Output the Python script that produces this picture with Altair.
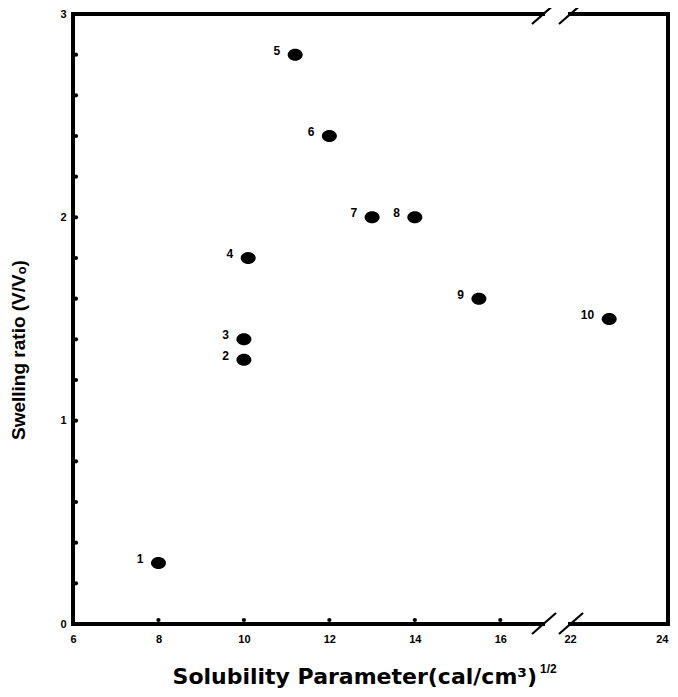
import altair as alt
import pandas as pd

# ---- data ----
solvent_no = ["1", "2", "3", "4", "5", "6", "7", "8", "9", "10"]
solubility = [8.0, 10.0, 10.0, 10.1, 11.2, 12.0, 13.0, 14.0, 15.5, 22.8]
swelling = [0.3, 1.3, 1.4, 1.8, 2.8, 2.4, 2.0, 2.0, 1.6, 1.5]

x_tick_values = [6, 8, 10, 12, 14, 16, 22, 24]
y_tick_values = [0, 1, 2, 3]
x_minor = [8, 10, 12, 14, 16]
y_minor = [0.2, 0.4, 0.6, 0.8, 1.0, 1.2, 1.4, 1.6, 1.8, 2.0, 2.2, 2.4, 2.6, 2.8]
x_min, break_lo, break_hi, x_max = 6, 17, 22, 24
y_min, y_max = 0, 3

x_title = "Solubility Parameter(cal/cm³)"
x_title_sup = "1/2"
y_title = "Swelling ratio (V/Vₒ)"

W, H = 595, 610
FONT = "Liberation Sans"

pts = pd.DataFrame({"x": solubility, "y": swelling, "label": solvent_no})

segments = pd.DataFrame({
    "x": [x_min, x_max, x_min, break_hi, x_min, break_hi],
    "x2": [x_min, x_max, break_lo, x_max, break_lo, x_max],
    "y": [y_min, y_min, y_min, y_min, y_max, y_max],
    "y2": [y_max, y_max, y_min, y_min, y_max, y_max],
})
slashes = pd.DataFrame({
    "x": [break_lo, break_hi, break_lo, break_hi],
    "y": [y_min, y_min, y_max, y_max],
})
yminor_df = pd.DataFrame({"x": [x_min] * len(y_minor), "y": y_minor})
xminor_df = pd.DataFrame({"x": x_minor, "y": [y_min] * len(x_minor)})

xscale = alt.Scale(domain=[x_min, break_lo, break_hi, x_max], range=[0, 470, 497, W])
yscale = alt.Scale(domain=[y_min, y_max], nice=False, zero=False)

xaxis = alt.Axis(values=x_tick_values, title=None, domain=False, ticks=False, tickSize=0,
                 grid=False, labelFont=FONT, labelFontWeight="bold", labelFontSize=11,
                 labelColor="black", labelPadding=9, labelFlush=False, labelOverlap=False,
                 labelAlign={"condition": {"test": f"datum.value == {x_max}", "value": "right"},
                             "value": "center"})
yaxis = alt.Axis(values=y_tick_values, title=None, domain=False, ticks=False, tickSize=0,
                 grid=False, labelFont=FONT, labelFontWeight="bold", labelFontSize=11,
                 labelColor="black", labelPadding=7, labelFlush=False, labelOverlap=False)

X = lambda f="x": alt.X(f"{f}:Q", scale=xscale, axis=xaxis)
Y = lambda f="y": alt.Y(f"{f}:Q", scale=yscale, axis=yaxis)

frame = alt.Chart(segments).mark_rule(color="black", strokeWidth=4, strokeCap="square").encode(
    x=X(), x2="x2:Q", y=Y(), y2="y2:Q")

slash = alt.Chart(slashes).mark_rule(color="black", strokeWidth=2.2,
                                     xOffset=-11, x2Offset=13, yOffset=10, y2Offset=-11).encode(
    x=X(), x2="x:Q", y=Y(), y2="y:Q")

ydots = alt.Chart(yminor_df).mark_circle(color="black", opacity=1, size=18, xOffset=3).encode(
    x=X(), y=Y())
xdots = alt.Chart(xminor_df).mark_circle(color="black", opacity=1, size=18, yOffset=-4).encode(
    x=X(), y=Y())

ellipse = "M -1 0 A 1 0.8 0 1 1 1 0 A 1 0.8 0 1 1 -1 0 Z"
points = alt.Chart(pts).mark_point(shape=ellipse, size=225, filled=True, color="black",
                                   opacity=1, strokeWidth=0).encode(x=X(), y=Y())

labels = alt.Chart(pts).mark_text(align="right", baseline="middle", dx=-15, dy=-4,
                                  font=FONT, fontWeight="bold", fontSize=12, color="black").encode(
    x=X(), y=Y(), text="label:N")

title_df = pd.DataFrame({"t": [x_title], "s": [x_title_sup], "yt": [y_title]})
xt = alt.Chart(title_df).mark_text(align="right", baseline="alphabetic", font="DejaVu Sans",
                                   fontWeight="bold", fontSize=22, color="black").encode(
    x=alt.value(464), y=alt.value(670), text="t:N")
xs = alt.Chart(title_df).mark_text(align="left", baseline="alphabetic", font=FONT,
                                   fontWeight="bold", fontSize=12, color="black").encode(
    x=alt.value(467), y=alt.value(659), text="s:N")
yt = alt.Chart(title_df).mark_text(align="left", baseline="alphabetic", angle=270, font=FONT,
                                   fontWeight="bold", fontSize=19, color="black").encode(
    x=alt.value(-48), y=alt.value(426), text="yt:N")

chart = alt.layer(frame, slash, ydots, xdots, points, labels, xt, xs, yt).properties(
    width=W, height=H,
    autosize=alt.AutoSizeParams(type="none"),
    padding={"left": 65, "top": 6, "right": 2, "bottom": 65},
    background="white",
).configure_view(stroke=None)

chart.save("out.html", embed_options={"renderer": "svg", "actions": False})
